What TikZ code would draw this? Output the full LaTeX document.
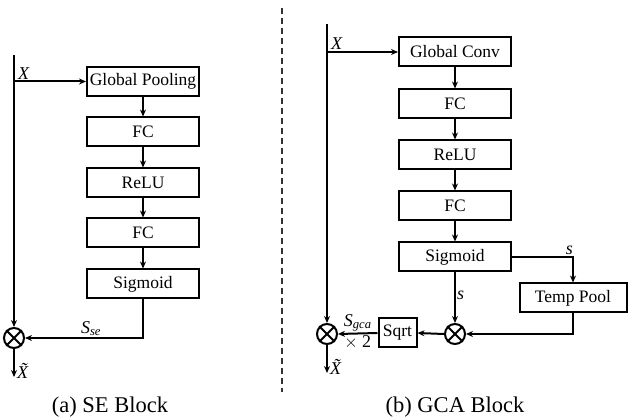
\documentclass[tikz,border=0pt]{standalone}
\usepackage{fontspec}
\setmainfont{Liberation Serif}
\usepackage{amsmath}
\usetikzlibrary{arrows.meta}

\begin{document}
\begin{tikzpicture}[x=1pt, y=-1pt, >={Stealth[length=7pt,width=6pt]}, line width=2pt,
    blk/.style={draw, minimum width=112pt, minimum height=29pt, inner sep=0pt, font=\fontsize{17.5}{20}\selectfont},
    mul/.style={draw, circle, minimum size=20pt, inner sep=0pt},
    lbl/.style={font=\fontsize{18}{20}\selectfont\itshape, inner sep=1pt},
    caption/.style={font=\fontsize{22.5}{26}\selectfont}]

    \useasboundingbox (0,0) rectangle (629,419);

    % (a) SE block
    \coordinate (lt) at (14,55);
    \node[blk] (gp) at (143,81.5) {Global Pooling};
    \node[blk] (lfc1) at (143,132) {FC};
    \node[blk] (lrelu) at (143,183) {ReLU};
    \node[blk] (lfc2) at (143,233) {FC};
    \node[blk] (lsig) at (143,284) {Sigmoid};
    \node[mul] (lm) at (14,338) {};
    \draw (lm.north east) -- (lm.south west) (lm.north west) -- (lm.south east);
    \coordinate (lout) at (14,377);

    \draw[->] (lt) -- (lm.north);
    \draw[->] (lt |- gp.west) -- node[lbl, anchor=south west, pos=0, xshift=2pt] {X} (gp.west);
    \draw[->] (gp) -- (lfc1);
    \draw[->] (lfc1) -- (lrelu);
    \draw[->] (lrelu) -- (lfc2);
    \draw[->] (lfc2) -- (lsig);
    \draw[->] (lsig.south) |- node[lbl, above, pos=0.72] {S\textsubscript{se}} (lm.east);
    \draw[->] (lm.south) -- node[lbl, anchor=south west, pos=1, xshift=1pt, yshift=-3pt] {X^^^^0303} (lout);
    \node[caption] (capa) at (110,407) {(a) SE Block};

    % separator
    \draw[line width=1.3pt, black!80, dash pattern=on 6pt off 4pt] (282,8) -- (282,392);

    % (b) GCA block
    \coordinate (rt) at (327,24);
    \node[blk] (gc) at (455,52) {Global Conv};
    \node[blk] (rfc1) at (455,104) {FC};
    \node[blk] (rrelu) at (455,155) {ReLU};
    \node[blk] (rfc2) at (455,206) {FC};
    \node[blk] (rsig) at (455,257) {Sigmoid};
    \node[blk, minimum width=107pt] (tp) at (573,298) {Temp Pool};
    \node[mul] (pm) at (455,334) {};
    \draw (pm.north east) -- (pm.south west) (pm.north west) -- (pm.south east);
    \node[blk, minimum width=38pt] (sq) at (397.5,333) {Sqrt};
    \node[mul] (rm) at (327,334) {};
    \draw (rm.north east) -- (rm.south west) (rm.north west) -- (rm.south east);
    \coordinate (rout) at (327,373);

    \draw[->] (rt) -- (rm.north);
    \draw[->] (rt |- gc.west) -- node[lbl, anchor=south west, pos=0, xshift=2pt] {X} (gc.west);
    \draw[->] (gc) -- (rfc1);
    \draw[->] (rfc1) -- (rrelu);
    \draw[->] (rrelu) -- (rfc2);
    \draw[->] (rfc2) -- (rsig);
    \draw[->] (rsig.east) -| node[lbl, above, pos=0.47] {s} (tp.north);
    \draw[->] (rsig.south) -- node[lbl, right, pos=0.45] {s} (pm.north);
    \draw[->] (tp.south) |- (pm.east);
    \draw[->] (pm.west) -- (sq.east);
    \draw[->] (sq.west) -- node[lbl, above, inner sep=0pt, yshift=1pt] {S\textsubscript{gca}} node[lbl, below, inner sep=0pt, yshift=-1pt, font=\fontsize{18}{20}\selectfont] {$\times$ 2} (rm.east);
    \draw[->] (rm.south) -- node[lbl, anchor=south west, pos=1, xshift=1pt, yshift=-3pt] {X^^^^0303} (rout);
    \node[caption] (capb) at (455,407) {(b) GCA Block};

\end{tikzpicture}
\end{document}
